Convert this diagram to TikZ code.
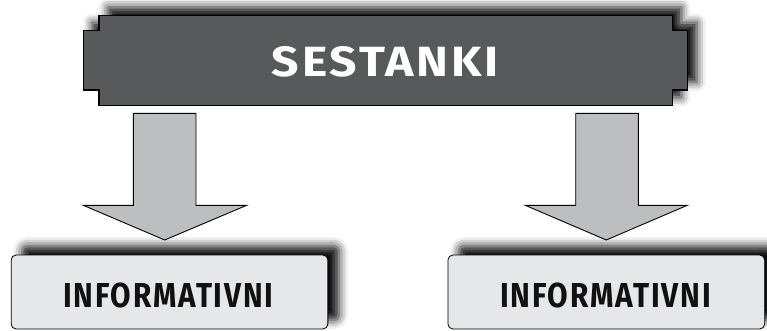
\documentclass[tikz,border=0pt]{standalone}
\usepackage{fontspec}
\usetikzlibrary{shadows.blur}
\setmainfont{Fira Sans}
\newfontfamily\labelfont[LetterSpace=6]{Fira Sans}
\definecolor{bannergray}{HTML}{58595B}
\definecolor{arrowgray}{HTML}{BCBEC0}
\definecolor{boxgray}{HTML}{E6E7E8}
\definecolor{textblack}{HTML}{111111}
\tikzset{
  bannerbox/.style={fill=bannergray, draw=black, line width=1.2pt,
    blur shadow={shadow xshift=9pt, shadow yshift=8pt, shadow blur radius=9pt, shadow opacity=95}},
  blockarrow/.style={fill=arrowgray, draw=black, line width=0.9pt, line join=miter},
  leafbox/.style={fill=boxgray, draw=black, line width=0.8pt, rounded corners=5pt,
    minimum width=316.7pt, minimum height=74pt, inner sep=0pt,
    blur shadow={shadow xshift=11pt, shadow yshift=9pt, shadow blur radius=9pt, shadow opacity=95}},
  titletext/.style={inner sep=0pt, text=white, font=\labelfont\bfseries},
  leaftext/.style={inner sep=0pt, text=textblack, font=\labelfont\bfseries}
}
\begin{document}
\begin{tikzpicture}[x=1pt, y=-1pt]
\useasboundingbox (0,0) rectangle (767,330);
% banner
\path[bannerbox] (99,15.3) -- (672.3,15.3) -- (672.3,30.7) -- (687.7,30.7) -- (687.7,90)
  -- (672.3,90) -- (672.3,105.3) -- (99,105.3) -- (99,90) -- (83.3,90) -- (83.3,30.7)
  -- (99,30.7) -- cycle;
\node[titletext] (title) at (385.5,61.5) {\resizebox{227pt}{30pt}{SESTANKI}};
% leaf boxes
\node[leafbox] (infoL) at (169.5,292) {};
\node[leafbox] (infoR) at (606.3,292) {};
\node[leaftext] (infoLtext) at (168.3,295) {\resizebox{210pt}{24.6pt}{INFORMATIVNI}};
\node[leaftext] (infoRtext) at (605.5,295) {\resizebox{211pt}{24.6pt}{INFORMATIVNI}};
% block arrows
\draw[blockarrow] (133.3,113.3) -- (196,113.3) -- (196,205.3) -- (246.7,205.3)
  -- (164.7,240) -- (83.3,205.3) -- (133.3,205.3) -- cycle;
\draw[blockarrow] (575.7,113.3) -- (638.3,113.3) -- (638.3,205.3) -- (687.3,205.3)
  -- (606.3,240) -- (525.3,205.3) -- (575.7,205.3) -- cycle;
\end{tikzpicture}
\end{document}
